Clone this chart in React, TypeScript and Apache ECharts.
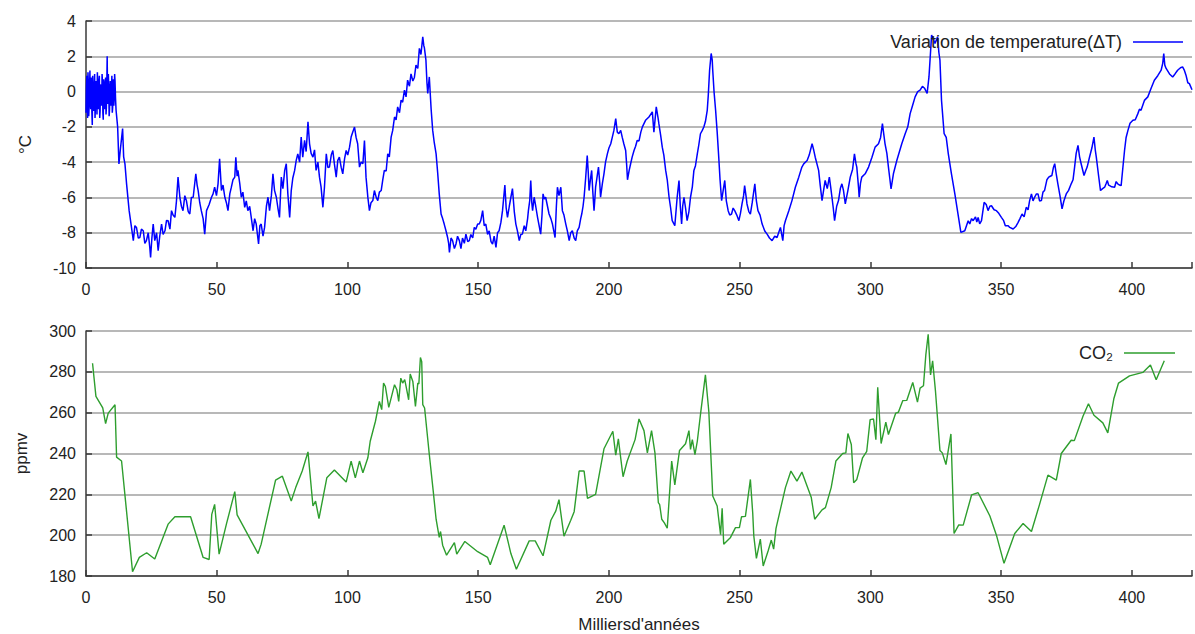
import React, { useEffect, useRef } from "react";
import * as echarts from "echarts";

const FONT = "'Liberation Sans', Arial, Helvetica, sans-serif";

const tempName = "Variation de temperature(ΔT)";
const co2Name = "CO₂";
const xAxisName = "Milliersd'années";
const tempAxisName = "°C";
const co2AxisName = "ppmv";

// [thousands of years, ΔT °C]
const temperature: [number, number][] = [
  [0,-1.2],[0.15,0.2],[0.3,0.9],[0.45,-0.9],[0.6,-1.5],[0.75,1.1],[0.9,0.5],[1.05,-1.4],[1.2,-0.8],[1.35,0.0],
  [1.5,1.2],[1.65,-0.5],[1.8,-1.0],[1.95,0.8],[2.1,0.4],[2.25,-1.2],[2.4,-1.9],[2.55,0.9],[2.7,0.2],[2.85,-1.1],
  [3.0,-0.6],[3.15,0.3],[3.3,1.0],[3.45,-1.5],[3.6,-0.9],[3.75,0.4],[3.9,0.6],[4.05,-0.2],[4.2,-1.3],[4.35,1.1],
  [4.5,0.1],[4.65,-1.0],[4.8,-0.4],[4.95,0.6],[5.1,0.9],[5.25,-1.5],[5.4,-1.1],[5.55,0.3],[5.7,0.4],[5.85,-0.3],
  [6.0,-0.8],[6.15,1.0],[6.3,0.5],[6.45,-1.2],[6.6,-1.6],[6.75,0.7],[6.9,0.3],[7.05,-1.0],[7.2,-0.5],[7.35,0.5],
  [7.5,0.8],[7.65,-1.3],[7.8,-0.9],[7.95,0.4],[8.1,2.0],[8.25,-0.2],[8.4,-0.7],[8.55,1.0],[8.7,0.2],[8.85,-1.4],
  [9.0,-1.0],[9.15,0.1],[9.3,0.6],[9.45,-0.8],[9.6,-0.4],[9.75,0.3],[9.9,0.9],[10.05,-1.2],[10.2,-0.9],[10.35,0.2],
  [10.5,0.7],[10.65,-0.8],[10.8,-0.3],[10.95,1.0],[11.1,0.6],[11.3,-0.4],[11.5,-1.06],[12.1,-2.0],
  [12.6,-4.1],[13.2,-3.2],[14.0,-2.1],[14.4,-3.7],[14.9,-4.1],[15.5,-5.2],[16.5,-6.75],[17.4,-7.7],[18.1,-8.45],
  [18.7,-7.6],[19.3,-7.7],[20.0,-8.3],[20.6,-8.27],[21.2,-7.8],[21.9,-7.89],[22.5,-8.6],[23.1,-8.45],[23.8,-8.0],
  [24.4,-8.83],[24.7,-9.4],[25.2,-8.3],[25.7,-7.51],[26.3,-8.45],[27.0,-8.0],[27.6,-9.02],[28.2,-8.2],[28.9,-7.51],
  [29.5,-8.1],[30.2,-7.89],[30.8,-7.3],[31.4,-7.32],[32.1,-7.8],[32.7,-6.75],[33.3,-7.0],[34.0,-7.13],[34.6,-6.2],
  [35.2,-4.85],[35.9,-5.99],[36.5,-6.5],[37.1,-6.75],[37.8,-5.9],[38.4,-6.18],[39.1,-6.8],[39.7,-6.94],[40.3,-6.0],
  [41.0,-5.99],[42.0,-4.66],[42.5,-5.3],[42.9,-5.61],[43.5,-6.3],[44.1,-6.75],[44.8,-7.2],[45.4,-8.08],[46.1,-6.75],
  [47.1,-6.4],[48.0,-5.99],[48.6,-5.8],[49.2,-5.42],[49.9,-5.9],[50.5,-5.23],[51.1,-3.81],[51.8,-5.61],[52.4,-5.3],
  [53.1,-5.99],[53.7,-6.3],[54.3,-6.75],[55.0,-5.8],[55.6,-5.42],[56.2,-5.0],[56.9,-4.85],[57.3,-3.72],[57.8,-4.8],
  [58.1,-4.47],[58.8,-5.2],[59.4,-5.99],[60.0,-5.7],[60.7,-6.56],[61.3,-6.2],[61.9,-6.75],[62.6,-6.5],[63.2,-7.13],
  [63.9,-7.89],[64.5,-7.2],[65.1,-7.51],[66.0,-8.64],[66.5,-7.6],[67.0,-7.51],[67.7,-8.2],[68.3,-7.7],[69.0,-6.5],
  [69.6,-5.99],[70.2,-6.75],[70.9,-5.9],[71.5,-4.66],[72.1,-5.6],[72.8,-5.99],[73.4,-6.6],[74.0,-7.13],[74.7,-4.85],
  [75.3,-5.5],[76.0,-4.47],[76.6,-4.09],[77.2,-5.8],[77.9,-7.13],[78.5,-5.61],[79.1,-4.9],[79.8,-4.47],[80.4,-3.9],
  [81.0,-3.53],[81.7,-4.0],[82.3,-2.58],[82.9,-3.72],[83.6,-2.77],[84.2,-3.4],[84.9,-1.72],[85.5,-2.96],[86.1,-3.5],
  [86.8,-3.72],[87.4,-3.3],[88.0,-4.47],[88.7,-4.0],[89.3,-4.85],[89.9,-5.4],[90.6,-6.56],[91.2,-5.42],[91.9,-3.53],
  [92.5,-4.3],[93.1,-4.28],[93.8,-3.6],[94.4,-3.34],[95.0,-4.1],[95.7,-4.85],[96.3,-3.9],[96.9,-3.72],[97.6,-4.3],
  [98.2,-4.66],[98.9,-3.8],[99.5,-3.34],[100.1,-3.6],[100.8,-3.15],[101.4,-2.58],[102.0,-2.3],[102.7,-2.01],[103.3,-2.6],
  [103.9,-2.96],[104.6,-4.28],[105.2,-4.0],[105.9,-4.09],[106.5,-2.77],[107.1,-4.85],[107.8,-6.0],[108.4,-6.75],
  [109.0,-6.3],[109.7,-6.18],[110.3,-5.61],[111.0,-6.0],[111.6,-6.18],[112.2,-5.7],[112.9,-5.61],[113.5,-5.0],[114.1,-4.47],
  [114.8,-4.5],[115.4,-3.53],[116.0,-3.7],[116.7,-2.58],[117.3,-2.2],[118.0,-1.44],[118.6,-1.6],[119.2,-0.87],[119.9,-1.2],
  [120.5,-0.49],[121.1,-0.6],[121.8,0.08],[122.4,-0.3],[123.0,0.65],[123.7,0.3],[124.3,1.0],[125.0,0.6],[125.6,0.8],
  [126.2,1.5],[126.9,1.31],[127.5,2.45],[128.1,2.1],[128.8,3.1],[129.2,2.6],[129.4,2.5],[130.0,1.8],[130.4,0.5],
  [130.7,-0.11],[131.3,0.83],[132.0,-1.0],[132.6,-2.2],[133.2,-2.9],[133.9,-3.53],[134.5,-4.6],[135.1,-5.8],[135.8,-6.94],
  [136.4,-7.2],[137.0,-7.51],[137.7,-7.9],[138.3,-8.27],[138.7,-8.6],[139.0,-9.12],[139.6,-8.3],[140.2,-8.45],[140.9,-8.9],
  [141.5,-8.64],[142.1,-8.2],[142.8,-8.45],[143.4,-8.9],[144.0,-8.3],[144.7,-8.6],[145.3,-8.08],[146.0,-8.5],[146.6,-8.45],
  [147.2,-8.1],[147.9,-8.3],[148.5,-7.7],[149.1,-7.8],[149.8,-7.5],[150.4,-7.51],[151.0,-7.3],[151.7,-6.75],[152.3,-7.6],
  [152.9,-7.51],[153.6,-8.1],[154.2,-7.89],[154.9,-8.5],[155.5,-8.64],[156.1,-8.2],[156.8,-8.83],[157.4,-8.0],[158.0,-7.89],
  [158.7,-7.4],[159.3,-6.75],[160.2,-5.3],[160.7,-6.6],[161.2,-7.13],[161.9,-6.5],[162.5,-5.99],[163.1,-5.5],[163.8,-6.8],
  [164.4,-7.51],[165.0,-7.9],[165.7,-8.45],[166.3,-8.1],[166.9,-8.08],[167.6,-7.6],[168.2,-7.89],[168.9,-7.2],[169.2,-6.75],
  [169.7,-6.2],[170.1,-5.04],[170.5,-6.3],[170.8,-6.75],[171.4,-5.99],[172.0,-6.5],[172.7,-7.13],[173.3,-7.6],[173.9,-8.08],
  [174.4,-7.0],[174.8,-5.8],[175.3,-6.1],[175.8,-5.99],[176.5,-6.5],[177.1,-6.94],[177.8,-7.2],[178.4,-7.51],[178.9,-7.9],
  [179.4,-8.27],[179.9,-6.5],[180.3,-5.42],[180.9,-5.9],[181.6,-5.42],[182.2,-6.75],[182.8,-7.0],[183.5,-7.51],[184.1,-7.9],
  [184.8,-8.45],[185.4,-8.0],[186.0,-7.89],[186.7,-8.3],[187.3,-8.45],[187.9,-7.9],[188.6,-7.7],[189.2,-7.2],[189.6,-6.94],
  [190.1,-6.5],[190.5,-5.99],[191.1,-4.9],[191.7,-3.62],[192.1,-4.6],[192.4,-5.61],[192.9,-5.0],[193.4,-4.47],[193.8,-5.6],
  [194.3,-6.75],[194.7,-5.9],[194.9,-5.42],[195.4,-4.9],[196.0,-4.28],[196.5,-5.2],[196.8,-5.99],[197.5,-5.2],[198.1,-4.66],
  [198.7,-4.0],[199.4,-3.53],[200.0,-3.2],[200.7,-2.96],[201.3,-2.58],[201.9,-2.2],[202.6,-1.53],[203.2,-2.3],[203.8,-2.39],
  [204.5,-2.2],[205.1,-2.6],[205.7,-2.96],[206.4,-3.34],[206.8,-4.2],[207.1,-5.0],[207.7,-4.5],[208.3,-4.09],[208.9,-3.7],
  [209.6,-3.34],[210.2,-3.1],[210.8,-2.77],[211.5,-2.8],[212.2,-2.3],[212.8,-2.0],[214.0,-1.63],[215.3,-1.44],[216.6,-1.15],
  [217.2,-2.3],[218.1,-0.87],[218.8,-1.5],[219.1,-1.82],[219.8,-2.5],[220.4,-3.15],[221.0,-3.6],[221.7,-4.47],[222.3,-5.0],
  [223.0,-5.99],[223.6,-6.6],[224.2,-7.32],[225.2,-7.6],[226.1,-5.99],[226.8,-5.04],[227.3,-6.5],[227.8,-7.51],[228.2,-6.5],
  [228.7,-5.99],[229.3,-6.6],[229.9,-7.32],[230.6,-6.8],[231.2,-5.99],[231.9,-5.4],[232.5,-4.47],[233.1,-4.2],[233.8,-3.53],
  [234.4,-3.0],[235.0,-2.39],[235.7,-2.2],[236.3,-2.01],[236.9,-1.7],[237.6,-1.06],[238.0,-0.2],[238.5,1.21],[239.1,2.16],
  [239.5,1.8],[239.7,1.21],[240.2,0.0],[240.8,-1.06],[241.4,-2.3],[242.0,-3.72],[242.5,-5.0],[243.1,-6.18],[243.7,-5.6],
  [244.3,-5.04],[244.9,-6.2],[245.6,-6.75],[246.2,-7.0],[246.9,-6.94],[247.5,-6.6],[248.1,-6.75],[248.9,-7.0],[249.7,-7.32],
  [250.3,-6.9],[250.9,-6.37],[251.5,-5.9],[251.9,-5.33],[252.5,-6.0],[252.8,-6.37],[253.5,-6.8],[254.1,-6.94],[254.8,-6.3],
  [255.8,-5.23],[256.4,-6.2],[257.0,-6.75],[257.8,-7.0],[258.6,-7.51],[259.6,-7.9],[260.5,-8.08],[261.4,-8.3],[262.4,-8.45],
  [263.4,-8.2],[264.3,-8.27],[264.9,-8.0],[265.6,-7.7],[266.5,-8.45],[267.0,-7.6],[267.5,-7.32],[268.8,-6.75],[270.0,-6.18],
  [271.3,-5.42],[272.6,-4.85],[273.8,-4.28],[274.5,-4.1],[275.8,-3.91],[276.6,-3.6],[277.7,-2.96],[278.3,-3.3],[278.9,-3.72],
  [280.2,-4.47],[280.8,-5.3],[281.5,-6.18],[282.1,-5.6],[282.7,-5.04],[283.5,-5.5],[284.3,-4.85],[284.8,-5.4],[285.3,-5.99],
  [285.8,-6.6],[286.3,-7.32],[287.1,-6.5],[287.8,-6.18],[288.5,-5.5],[289.1,-5.23],[289.7,-5.6],[290.4,-6.37],[291.4,-5.6],
  [292.3,-4.85],[293.2,-4.4],[293.9,-3.53],[294.5,-4.1],[294.8,-4.28],[295.5,-5.5],[295.7,-5.99],[296.2,-5.2],[296.7,-4.85],
  [298.0,-4.66],[299.3,-4.28],[300.6,-3.72],[301.8,-3.15],[303.1,-2.96],[303.9,-2.6],[304.6,-1.82],[305.1,-2.4],[305.6,-2.96],
  [306.3,-3.5],[306.9,-4.28],[307.4,-4.9],[307.9,-5.52],[308.8,-4.66],[310.1,-3.91],[312.0,-2.96],[313.3,-2.39],[314.3,-2.0],
  [315.2,-1.25],[316.1,-0.8],[317.1,-0.3],[318.1,0.0],[319.0,0.08],[319.9,0.3],[320.8,0.17],[321.7,-0.11],[322.4,0.83],
  [322.9,2.0],[323.4,3.2],[324.0,3.0],[324.7,2.73],[325.2,2.9],[325.7,3.11],[326.2,2.2],[326.6,1.78],[327.2,-0.5],
  [328.2,-2.39],[329.0,-2.6],[329.8,-3.53],[331.0,-4.66],[332.3,-5.8],[333.3,-6.75],[334.6,-7.98],[336.1,-7.89],[337.4,-7.32],
  [338.0,-7.5],[338.7,-7.2],[339.3,-7.32],[340.2,-7.1],[340.7,-7.4],[341.2,-7.13],[341.8,-7.5],[342.5,-7.32],[343.5,-6.28],
  [344.3,-6.4],[345.0,-6.75],[345.7,-6.5],[346.3,-6.47],[347.3,-6.7],[348.2,-6.75],[349.1,-6.9],[350.1,-7.13],[350.9,-7.3],
  [351.6,-7.6],[352.7,-7.6],[353.3,-7.7],[354.6,-7.79],[355.6,-7.65],[356.5,-7.41],[357.2,-7.2],[358.0,-6.94],[358.8,-7.1],
  [359.6,-6.56],[360.3,-6.7],[360.9,-6.18],[361.6,-5.8],[362.2,-6.2],[362.8,-5.99],[363.5,-5.8],[364.1,-5.8],[364.7,-6.2],
  [365.4,-6.18],[366.0,-5.7],[366.6,-5.61],[367.5,-5.0],[368.2,-4.85],[368.8,-4.8],[369.4,-4.76],[370.0,-4.3],[370.5,-4.09],
  [371.1,-4.7],[371.7,-5.23],[372.5,-5.9],[373.3,-6.65],[374.0,-6.2],[374.9,-5.8],[375.8,-5.6],[376.8,-5.23],[377.5,-5.0],
  [378.1,-4.28],[378.7,-3.5],[379.4,-3.05],[380.0,-3.7],[380.6,-4.09],[381.7,-4.76],[382.3,-4.5],[382.9,-4.28],[383.8,-3.72],
  [384.7,-3.2],[385.5,-2.58],[386.0,-3.3],[386.4,-3.72],[387.3,-4.8],[388.0,-5.61],[388.8,-5.5],[389.6,-5.42],[390.2,-5.2],
  [390.6,-5.04],[391.1,-5.3],[391.5,-5.33],[392.3,-5.4],[393.4,-5.42],[394.0,-5.1],[394.6,-5.23],[395.3,-5.3],[395.9,-5.33],
  [396.5,-4.4],[397.2,-3.34],[397.8,-2.6],[398.5,-2.2],[399.3,-1.8],[400.4,-1.63],[401.3,-1.6],[402.3,-1.25],[402.9,-1.0],
  [403.5,-1.06],[404.8,-0.5],[406.1,-0.3],[407.4,0.2],[408.6,0.64],[409.9,0.9],[411.2,1.21],[411.8,1.6],[412.2,2.16],
  [412.6,1.5],[413.1,1.31],[414.4,1.0],[415.6,0.83],[416.5,1.0],[417.5,1.21],[418.6,1.35],[419.4,1.4],[420.1,1.2],
  [420.7,0.93],[421.4,0.5],[422.0,0.45],[423.0,0.1],
];

// [thousands of years, CO2 ppmv]
const co2: [number, number][] = [
  [2.5,284.2],[3.8,268],[6.4,262.3],[7.5,254.6],[8.5,259.8],[11.1,263.9],[11.7,238.2],[13.6,236.3],[17.8,182.1],
  [20.4,189.1],[23.2,191.4],[26.3,188.3],[31.4,205.4],[34,209],[40,209],[44.8,189.1],[47.1,188.1],[48.1,210.2],
  [49.2,215.1],[50.9,190.7],[53.7,205.4],[56.9,221.3],[57.8,209.9],[65.8,191],[67,195.6],[72.5,227],[75.1,228.9],
  [78.5,216.7],[80.2,223.3],[82.7,231.4],[84.9,240.8],[86.8,214.3],[87.8,216.7],[89.1,208.1],[92.1,228.1],[95,231.9],
  [99.5,226],[101.4,236.3],[103,228.1],[104.6,236.3],[105.9,230.6],[107.8,237.9],[108.7,246],[110.7,255.8],[112.2,265.5],
  [113.1,261.5],[113.8,274.5],[114.5,272.8],[115.8,262.6],[118,273.7],[118.9,271.2],[119.6,265.5],[120.4,276.9],
  [121.1,274.5],[121.9,276.2],[122.4,273],[123.4,266.3],[124,278.9],[125,275.3],[126,263.1],[126.9,274.5],[127.3,274],
  [127.9,287],[128.4,285],[128.8,263.9],[129.5,262.3],[131.3,239.5],[132.8,221.6],[133.9,207.8],[135.1,198.9],
  [135.6,201.8],[136.4,195.1],[137.9,190.2],[140.9,196.4],[141.8,190.7],[144.9,196.9],[149.8,191.9],[153.6,189.1],
  [154.6,185.5],[159.9,204.9],[162.5,191],[164.6,183.3],[169.5,197.2],[171.8,197.2],[174.8,189.9],[177.8,207.3],
  [179.7,211.9],[180.9,217.4],[182.8,199.5],[185.4,207.3],[186.7,211.5],[188.6,231.4],[190.5,231.4],[191.8,218],
  [194.9,220],[198.1,242.3],[201.5,250.9],[202.6,239.2],[203.6,247.2],[205.4,228.6],[207,236.3],[210,246.8],
  [211.5,256.9],[213.4,251.2],[214.7,240.3],[216.3,251.2],[217.6,240.3],[218.9,215.9],[219.4,215],[220.2,207.8],
  [221.2,206],[222.3,203.4],[224,236.3],[225.2,224.6],[226.1,233.1],[227,241.5],[229.3,244.8],[230.6,251.2],[231.2,242],
  [231.9,246.8],[232.9,239.5],[233.8,246],[235,259],[236.9,278.5],[238.2,260.7],[239.7,219.2],[241.4,214.3],[242.7,200.2],
  [243.3,213.2],[243.9,195.6],[246.5,198.9],[248.4,203.7],[249.9,203.7],[250.7,209],[252.2,209.2],[254.1,227.3],
  [255,210.7],[255.4,199.7],[256.4,188.6],[257.9,198.1],[259,184.9],[260.9,192.4],[262.1,197.6],[263,193.2],[263.9,203.3],
  [267.5,223.3],[269.6,231.4],[271.9,226.5],[273.8,230.9],[277.4,218.4],[278.7,207.8],[281.5,212.4],[282.8,213.5],
  [285,223.3],[286.8,236.3],[289.4,240],[290.6,240.3],[291.4,249.8],[292.7,244.4],[293.6,225.7],[294.8,227.3],[297,237.9],
  [298.6,241.1],[299.9,256.6],[301.2,256.9],[302.1,246.8],[302.8,272.4],[304.1,244.9],[305.9,255.3],[306.9,249.3],
  [309.7,259.8],[310.7,260.2],[312.4,265.9],[313.9,266],[316.2,274.8],[318,265.2],[319,272],[320.3,273.2],[321.2,288.3],
  [322.1,298.4],[323,278.5],[323.8,285.4],[324.9,270.4],[326.6,241.5],[327.5,240.3],[328.9,234.6],[330.8,249.6],
  [332,200.8],[333.8,205],[335.5,204.9],[338.7,219.7],[341.2,220.8],[345.7,209.4],[348.2,200],[351.1,186.2],[355.2,200.8],
  [358.4,205.7],[361.6,201.8],[364.7,215.1],[367.9,229.4],[371.1,227],[373,240],[376.8,246.5],[378,246.3],[381.3,258.2],
  [383.4,264.4],[385.5,258.7],[388.9,255],[390.8,250.1],[393.1,266.8],[394.9,274.5],[399.1,278],[404.2,279.7],
  [407.1,283.4],[409.3,276.1],[412.4,285.4],
];

const AXIS_COLOR = "#3a3a3a";
const GRID_COLOR = "#a0a0a0";
const TEXT_COLOR = "#222";

function xAxisCommon(gridIndex: number) {
  return {
    type: "value",
    gridIndex,
    min: 0,
    max: 423,
    interval: 50,
    axisLine: { show: true, onZero: false, lineStyle: { color: AXIS_COLOR, width: 1.5 } },
    axisTick: { show: true, inside: true, length: 6, lineStyle: { color: AXIS_COLOR, width: 1.5 } },
    axisLabel: {
      margin: 13,
      fontSize: 16,
      color: TEXT_COLOR,
      fontFamily: FONT,
      formatter: (v: number) => (v % 50 === 0 ? String(v) : ""),
    },
    splitLine: { show: false },
  };
}

function yAxisCommon(
  gridIndex: number,
  min: number,
  max: number,
  interval: number,
  name: string,
  nameGap: number
) {
  return {
    type: "value",
    gridIndex,
    min,
    max,
    interval,
    name,
    nameLocation: "middle",
    nameGap,
    nameRotate: 90,
    nameTextStyle: { fontSize: 17, color: TEXT_COLOR, fontFamily: FONT },
    axisLine: { show: true, onZero: false, lineStyle: { color: AXIS_COLOR, width: 1.5 } },
    axisTick: { show: true, inside: true, length: 6, lineStyle: { color: AXIS_COLOR, width: 1.5 } },
    axisLabel: { margin: 10, fontSize: 16, color: TEXT_COLOR, fontFamily: FONT },
    splitLine: { show: true, lineStyle: { color: GRID_COLOR, width: 1.5 } },
  };
}

const legendText = {
  fontSize: 18,
  color: TEXT_COLOR,
  fontFamily: FONT,
  rich: {
    t: { fontSize: 18, color: TEXT_COLOR, fontFamily: FONT, padding: [0, 6, 0, 0] },
  },
};

export default function App() {
  const ref = useRef<HTMLDivElement>(null);

  useEffect(() => {
    if (!ref.current) return;
    const chart = echarts.init(ref.current, undefined, { renderer: "svg" });
    const xBottom: any = xAxisCommon(1);
    xBottom.name = xAxisName;
    xBottom.nameLocation = "middle";
    xBottom.nameGap = 40;
    xBottom.nameTextStyle = { fontSize: 17, color: TEXT_COLOR, fontFamily: FONT };

    chart.setOption({
      animation: false,
      backgroundColor: "#ffffff",
      textStyle: { fontFamily: FONT },
      grid: [
        { left: 86, right: 0, top: 21, height: 247 },
        { left: 86, right: 0, top: 331, height: 246 },
      ],
      legend: [
        {
          data: [tempName],
          right: 12,
          top: 33,
          padding: 0,
          align: "right",
          icon: "rect",
          itemWidth: 50,
          itemHeight: 1.5,
          formatter: (name: string) => "{t|" + name + "}",
          textStyle: legendText,
        },
        {
          data: [co2Name],
          right: 20,
          top: 344,
          padding: 0,
          align: "right",
          icon: "rect",
          itemWidth: 51,
          itemHeight: 1.5,
          formatter: (name: string) => "{t|" + name + "}",
          textStyle: legendText,
        },
      ],
      xAxis: [xAxisCommon(0), xBottom],
      yAxis: [
        yAxisCommon(0, -10, 4, 2, tempAxisName, 52),
        yAxisCommon(1, 180, 300, 20, co2AxisName, 56),
      ],
      series: [
        {
          name: tempName,
          type: "line",
          xAxisIndex: 0,
          yAxisIndex: 0,
          data: temperature,
          showSymbol: false,
          color: "#0000ff",
          lineStyle: { color: "#0000ff", width: 1.5 },
        },
        {
          name: co2Name,
          type: "line",
          xAxisIndex: 1,
          yAxisIndex: 1,
          data: co2,
          showSymbol: false,
          color: "#2e9e2e",
          lineStyle: { color: "#2e9e2e", width: 1.4 },
        },
      ],
    });
    return () => chart.dispose();
  }, []);

  return (
    <div
      ref={ref}
      style={{ position: "absolute", left: 0, top: 0, width: 1195, height: 634, background: "#fff" }}
    />
  );
}
